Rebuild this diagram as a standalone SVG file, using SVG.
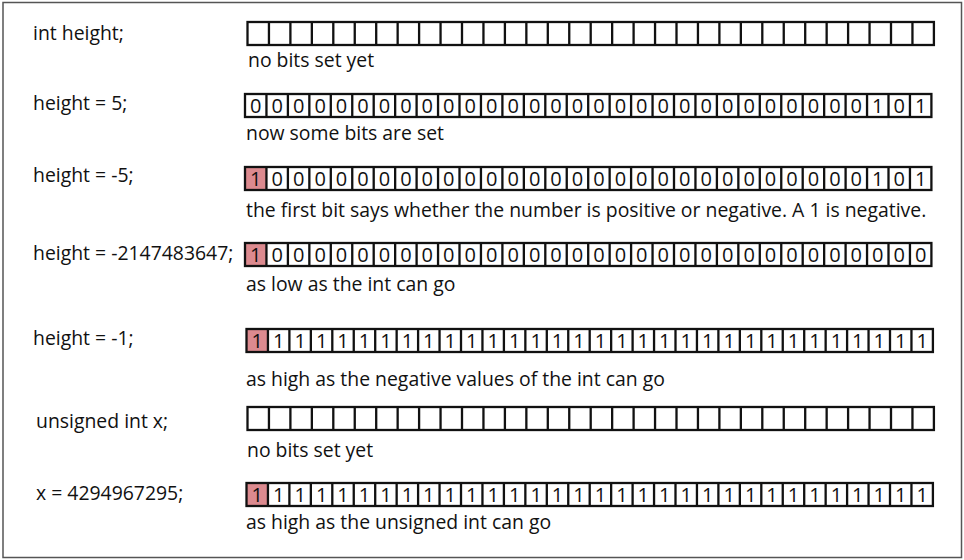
<svg xmlns="http://www.w3.org/2000/svg" xmlns:xlink="http://www.w3.org/1999/xlink" width="964" height="560" viewBox="0 0 964 560">
<style>
.lbl{font-family:"Open Sans","Liberation Sans",sans-serif;font-size:19.4px;fill:#111}
.dig{font-family:"Open Sans","Liberation Sans",sans-serif;font-size:20px;fill:#111;text-anchor:middle}
.cellbox{fill:none;stroke:#111;stroke-width:2.3}
.pink{fill:#dc8a8f}
</style>
<defs>
<g id="cells">
<rect class="cellbox" x="0" y="0" width="686.4" height="23"/>
<path class="cellbox" d="M21.45 0V23M42.9 0V23M64.35 0V23M85.8 0V23M107.25 0V23M128.7 0V23M150.15 0V23M171.6 0V23M193.05 0V23M214.5 0V23M235.95 0V23M257.4 0V23M278.85 0V23M300.3 0V23M321.75 0V23M343.2 0V23M364.65 0V23M386.1 0V23M407.55 0V23M429 0V23M450.45 0V23M471.9 0V23M493.35 0V23M514.8 0V23M536.25 0V23M557.7 0V23M579.15 0V23M600.6 0V23M622.05 0V23M643.5 0V23M664.95 0V23"/>
</g>
</defs>
<rect x="0" y="0" width="964" height="560" fill="#fff"/>
<rect x="3" y="2.5" width="958.5" height="555" fill="none" stroke="#555" stroke-width="1.5"/>

<g id="row1">
<text class="lbl" x="33" y="40">int height;</text>
<g transform="translate(247.5,22)"><use xlink:href="#cells"/></g>
<text class="lbl" x="248" y="67">no bits set yet</text>
</g>

<g id="row2">
<text class="lbl" x="33" y="110">height = 5;</text>
<g transform="translate(245,94)">
<text class="dig" y="19" x="10.7 32.2 53.6 75.1 96.5 118 139.4 160.9 182.3 203.8 225.2 246.7 268.1 289.6 311 332.5 353.9 375.4 396.8 418.3 439.7 461.2 482.6 504.1 525.5 547 568.4 589.9 611.3 632.8 654.2 675.7">00000000000000000000000000000101</text>
<use xlink:href="#cells"/>
</g>
<text class="lbl" x="246" y="140">now some bits are set</text>
</g>

<g id="row3">
<text class="lbl" x="33" y="182">height = -5;</text>
<g transform="translate(245,167)">
<rect class="pink" x="0" y="0" width="21.45" height="23"/>
<text class="dig" y="19" x="10.7 32.2 53.6 75.1 96.5 118 139.4 160.9 182.3 203.8 225.2 246.7 268.1 289.6 311 332.5 353.9 375.4 396.8 418.3 439.7 461.2 482.6 504.1 525.5 547 568.4 589.9 611.3 632.8 654.2 675.7">10000000000000000000000000000101</text>
<use xlink:href="#cells"/>
</g>
<text class="lbl" x="246" y="217">the first bit says whether the number is positive or negative. A 1 is negative.</text>
</g>

<g id="row4">
<text class="lbl" x="33" y="260">height = -2147483647;</text>
<g transform="translate(245,243)">
<rect class="pink" x="0" y="0" width="21.45" height="23"/>
<text class="dig" y="19" x="10.7 32.2 53.6 75.1 96.5 118 139.4 160.9 182.3 203.8 225.2 246.7 268.1 289.6 311 332.5 353.9 375.4 396.8 418.3 439.7 461.2 482.6 504.1 525.5 547 568.4 589.9 611.3 632.8 654.2 675.7">10000000000000000000000000000000</text>
<use xlink:href="#cells"/>
</g>
<text class="lbl" x="246" y="291">as low as the int can go</text>
</g>

<g id="row5">
<text class="lbl" x="33" y="345">height = -1;</text>
<g transform="translate(246.5,329)">
<rect class="pink" x="0" y="0" width="21.45" height="23"/>
<text class="dig" y="19" x="10.7 32.2 53.6 75.1 96.5 118 139.4 160.9 182.3 203.8 225.2 246.7 268.1 289.6 311 332.5 353.9 375.4 396.8 418.3 439.7 461.2 482.6 504.1 525.5 547 568.4 589.9 611.3 632.8 654.2 675.7">11111111111111111111111111111111</text>
<use xlink:href="#cells"/>
</g>
<text class="lbl" x="246" y="386">as high as the negative values of the int can go</text>
</g>

<g id="row6">
<text class="lbl" x="36" y="428">unsigned int x;</text>
<g transform="translate(247.5,407)"><use xlink:href="#cells"/></g>
<text class="lbl" x="247" y="457">no bits set yet</text>
</g>

<g id="row7">
<text class="lbl" x="36" y="500">x = 4294967295;</text>
<g transform="translate(246.5,483)">
<rect class="pink" x="0" y="0" width="21.45" height="23"/>
<text class="dig" y="19" x="10.7 32.2 53.6 75.1 96.5 118 139.4 160.9 182.3 203.8 225.2 246.7 268.1 289.6 311 332.5 353.9 375.4 396.8 418.3 439.7 461.2 482.6 504.1 525.5 547 568.4 589.9 611.3 632.8 654.2 675.7">11111111111111111111111111111111</text>
<use xlink:href="#cells"/>
</g>
<text class="lbl" x="246" y="529">as high as the unsigned int can go</text>
</g>
</svg>
